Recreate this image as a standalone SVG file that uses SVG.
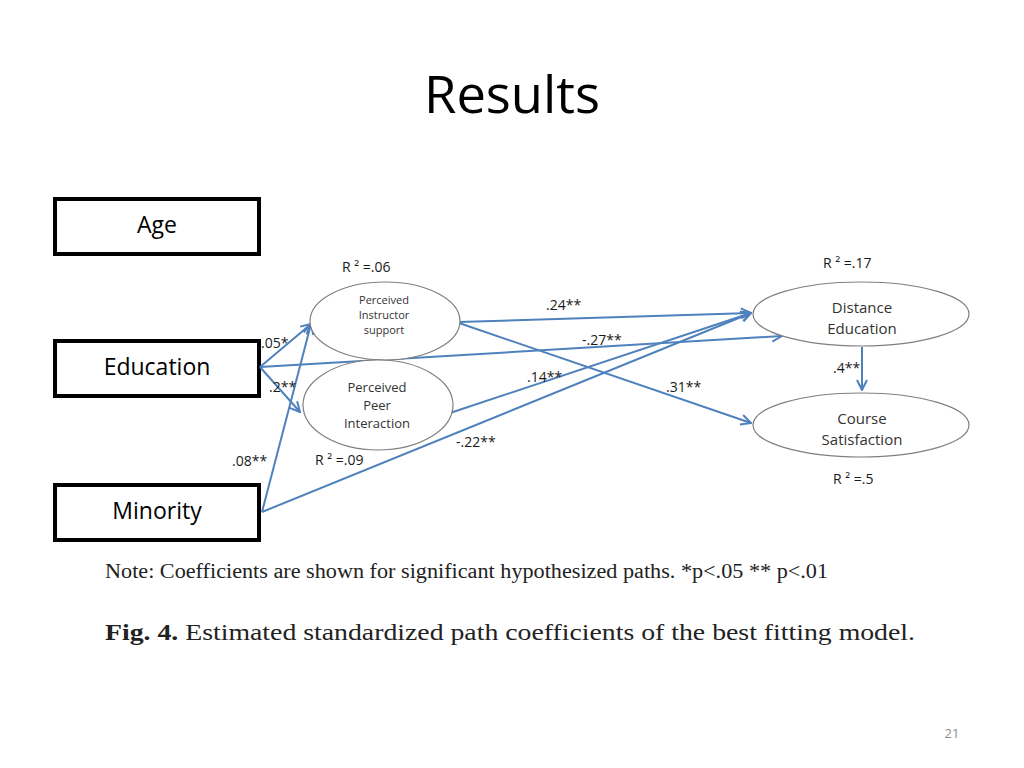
<svg xmlns="http://www.w3.org/2000/svg" width="1024" height="768" viewBox="0 0 1024 768">
<style>
.box{fill:#fff;stroke:#000;stroke-width:4}
.ell{fill:#fff;stroke:#7f7f7f;stroke-width:1.2}
.bl{font-family:"Open Sans","Liberation Sans",sans-serif;fill:#000;text-anchor:middle}
.lab{font-family:"Open Sans","Liberation Sans",sans-serif;fill:#1a1a1a;font-size:14px}
.et{font-family:"Open Sans","Liberation Sans",sans-serif;fill:#333;text-anchor:middle}
.con{stroke:#4f81bd;stroke-width:2;fill:none;marker-end:url(#ah)}
</style>
<defs>
<marker id="ah" viewBox="0 0 12 12" refX="11" refY="6" markerWidth="12" markerHeight="12" markerUnits="userSpaceOnUse" orient="auto">
<path d="M1,1 L11,6 L1,11" fill="none" stroke="#4f81bd" stroke-width="2"/>
</marker>
</defs>
<rect width="1024" height="768" fill="#fff"/>
<text x="512" y="113" class="bl" font-size="51" textLength="176" lengthAdjust="spacingAndGlyphs">Results</text>

<g id="age"><rect class="box" x="55" y="199" width="204" height="55"/><text class="bl" x="157" y="233" font-size="23">Age</text></g>
<g id="education"><rect class="box" x="55" y="341" width="204" height="55"/><text class="bl" x="157" y="375" font-size="23">Education</text></g>
<g id="minority"><rect class="box" x="55" y="485" width="204" height="55"/><text class="bl" x="157" y="519" font-size="23">Minority</text></g>

<g id="connectors">
<line class="con" x1="260" y1="367" x2="311" y2="324"/>
<line class="con" x1="260" y1="367" x2="300" y2="412"/>
<line class="con" x1="260" y1="367" x2="782" y2="336"/>
<line class="con" x1="262" y1="512" x2="311" y2="324"/>
<line class="con" x1="262" y1="512" x2="751" y2="313"/>
<line class="con" x1="459" y1="322" x2="751" y2="313"/>
<line class="con" x1="450" y1="413" x2="751" y2="313"/>
<line class="con" x1="459" y1="323" x2="751" y2="423"/>
<line class="con" x1="862" y1="347" x2="862" y2="390"/>
</g>

<g id="instructor"><ellipse class="ell" cx="385" cy="321" rx="75" ry="39"/>
<text class="et" font-size="11"><tspan x="384" y="304">Perceived</tspan><tspan x="384" y="319">Instructor</tspan><tspan x="384" y="334">support</tspan></text></g>
<g id="peer"><ellipse class="ell" cx="378" cy="405" rx="75" ry="45"/>
<text class="et" font-size="13"><tspan x="377" y="392">Perceived</tspan><tspan x="377" y="410">Peer</tspan><tspan x="377" y="428">Interaction</tspan></text></g>
<g id="distance"><ellipse class="ell" cx="861" cy="314" rx="108" ry="32"/>
<text class="et" font-size="15"><tspan x="862" y="313">Distance</tspan><tspan x="862" y="334">Education</tspan></text></g>
<g id="course"><ellipse class="ell" cx="861" cy="425" rx="108" ry="32"/>
<text class="et" font-size="15"><tspan x="862" y="424">Course</tspan><tspan x="862" y="445">Satisfaction</tspan></text></g>

<g id="labels">
<text class="lab" x="342" y="272">R ² =.06</text>
<text class="lab" x="315" y="465">R ² =.09</text>
<text class="lab" x="823" y="268">R ² =.17</text>
<text class="lab" x="833" y="484">R ² =.5</text>
<text class="lab" x="261" y="348">.05*</text>
<text class="lab" x="269" y="392">.2**</text>
<text class="lab" x="232" y="466">.08**</text>
<text class="lab" x="546" y="310">.24**</text>
<text class="lab" x="582" y="345">-.27**</text>
<text class="lab" x="527" y="382">.14**</text>
<text class="lab" x="666" y="392">.31**</text>
<text class="lab" x="456" y="447">-.22**</text>
<text class="lab" x="833" y="373">.4**</text>
</g>

<text x="105" y="578" font-family="'Liberation Serif',serif" font-size="20" fill="#222" textLength="723" lengthAdjust="spacingAndGlyphs">Note: Coefficients are shown for significant hypothesized paths. *p&lt;.05 ** p&lt;.01</text>
<text x="105" y="640" font-family="'Liberation Serif',serif" font-size="24" fill="#222" textLength="810" lengthAdjust="spacingAndGlyphs"><tspan font-weight="bold">Fig. 4.</tspan> Estimated standardized path coefficients of the best fitting model.</text>
<text x="952" y="738" font-family="'Open Sans','Liberation Sans',sans-serif" font-size="13" fill="#8c8c8c" text-anchor="middle">21</text>
</svg>
